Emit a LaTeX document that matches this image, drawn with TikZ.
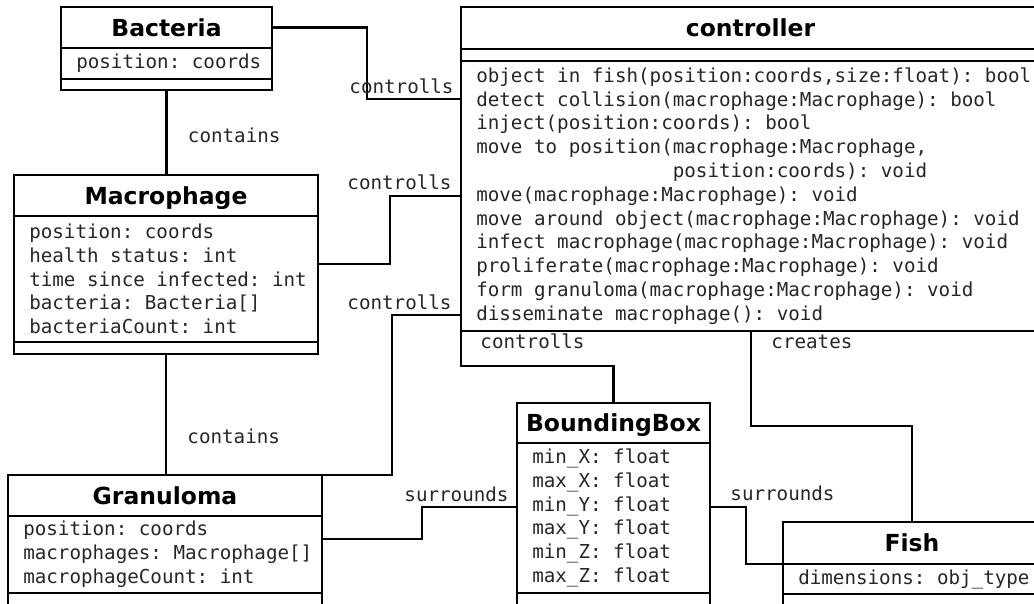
\documentclass[tikz,border=0pt]{standalone}
\usepackage{fontspec}
\setmainfont{DejaVu Sans}
\setmonofont{DejaVu Sans Mono}
\usetikzlibrary{positioning}

\newcommand{\classfont}{\bfseries\fontsize{16.7pt}{20pt}\selectfont}
\newcommand{\memberfont}{\ttfamily\fontsize{13.66pt}{16.93pt}\selectfont}

\begin{document}
\begin{tikzpicture}[
  box/.style={draw, line width=2.1pt, inner sep=0pt, outer sep=0pt},
  cname/.style={box, anchor=north west, font=\classfont,
    text height=12.2pt, text depth=0pt},
  members/.style={anchor=west, xshift=0.375cm, align=left,
    font=\memberfont, text=black!85, inner sep=0pt},
  link/.style={line width=2.1pt},
  role/.style={font=\memberfont, text=black!85, inner sep=0pt},
]
  \useasboundingbox (0,0) rectangle (25.85,-15.1);

  % Bacteria
  \node[cname, minimum width=5.275cm, minimum height=1.025cm] (bacteria) at (1.525,-0.175) {Bacteria};
  \node[box, minimum width=5.275cm, minimum height=0.775cm, below=0pt of bacteria] (bacteriaAttr) {};
  \node[box, minimum width=5.275cm, minimum height=0.275cm, below=0pt of bacteriaAttr] (bacteriaOps) {};
  \node[members] at (bacteriaAttr.west) {position: coords};

  % controller
  \node[cname, minimum width=14.475cm, minimum height=1.05cm] (controller) at (11.525,-0.175) {controller};
  \node[box, minimum width=14.475cm, minimum height=0.3cm, below=0pt of controller] (controllerAttr) {};
  \node[box, minimum width=14.475cm, minimum height=6.75cm, below=0pt of controllerAttr] (controllerOps) {};
  \node[members] at (controllerOps.west) {%
    object in fish(position:coords,size:float): bool\\
    detect collision(macrophage:Macrophage): bool\\
    inject(position:coords): bool\\
    move to position(macrophage:Macrophage,\\
    \phantom{move to position(}position:coords): void\\
    move(macrophage:Macrophage): void\\
    move around object(macrophage:Macrophage): void\\
    infect macrophage(macrophage:Macrophage): void\\
    proliferate(macrophage:Macrophage): void\\
    form granuloma(macrophage:Macrophage): void\\
    disseminate macrophage(): void};

  % Macrophage
  \node[cname, minimum width=7.6cm, minimum height=1.025cm] (macrophage) at (0.35,-4.375) {Macrophage};
  \node[box, minimum width=7.6cm, minimum height=3.15cm, below=0pt of macrophage] (macrophageAttr) {};
  \node[box, minimum width=7.6cm, minimum height=0.3cm, below=0pt of macrophageAttr] (macrophageOps) {};
  \node[members] at (macrophageAttr.west) {%
    position: coords\\
    health status: int\\
    time since infected: int\\
    bacteria: Bacteria[]\\
    bacteriaCount: int};

  % Granuloma
  \node[cname, minimum width=7.85cm, minimum height=1.025cm] (granuloma) at (0.2,-11.875) {Granuloma};
  \node[box, minimum width=7.85cm, minimum height=1.925cm, below=0pt of granuloma] (granulomaAttr) {};
  \node[box, minimum width=7.85cm, minimum height=0.5cm, below=0pt of granulomaAttr] (granulomaOps) {};
  \node[members] at (granulomaAttr.west) {%
    position: coords\\
    macrophages: Macrophage[]\\
    macrophageCount: int};

  % BoundingBox
  \node[cname, minimum width=4.825cm, minimum height=1.0cm] (boundingbox) at (12.925,-10.075) {BoundingBox};
  \node[box, minimum width=4.825cm, minimum height=3.75cm, below=0pt of boundingbox] (boundingboxAttr) {};
  \node[box, minimum width=4.825cm, minimum height=0.5cm, below=0pt of boundingboxAttr] (boundingboxOps) {};
  \node[members] at (boundingboxAttr.west) {%
    min\_X: float\\
    max\_X: float\\
    min\_Y: float\\
    max\_Y: float\\
    min\_Z: float\\
    max\_Z: float};

  % Fish
  \node[cname, minimum width=6.45cm, minimum height=1.05cm] (fish) at (19.575,-13.05) {Fish};
  \node[box, minimum width=6.45cm, minimum height=0.75cm, below=0pt of fish] (fishAttr) {};
  \node[box, minimum width=6.45cm, minimum height=0.5cm, below=0pt of fishAttr] (fishOps) {};
  \node[members] at (fishAttr.west) {dimensions: obj\_type};

  % controller links
  \draw[link] (bacteria.east) -- ++(2.375,0) |- ([yshift=-0.95cm]controllerOps.north west)
    node[role, anchor=base east, xshift=-0.15cm, yshift=0.15cm] {controlls};
  \draw[link] ([yshift=0.375cm]macrophageAttr.east) -- ++(1.8,0) |- ([yshift=-3.375cm]controllerOps.north west)
    node[role, anchor=base east, xshift=-0.2cm, yshift=0.175cm] {controlls};
  \draw[link] (granuloma.north east) -- ++(1.75,0) |- ([yshift=-6.35cm]controllerOps.north west)
    node[role, anchor=base east, xshift=-0.2cm, yshift=0.15cm] {controlls};
  \draw[link] (controllerOps.south west)
    node[role, anchor=base west, xshift=0.45cm, yshift=-0.425cm] {controlls}
    -- ++(0,-0.875) -| (boundingbox.north);
  \draw[link] ([xshift=7.25cm]controllerOps.south west)
    node[role, anchor=base west, xshift=0.475cm, yshift=-0.425cm] {creates}
    -- ++(0,-2.375) -| (fish.north);

  % containment
  \draw[link] (bacteriaOps.south)
    node[role, anchor=base west, xshift=0.5cm, yshift=-1.325cm] {contains}
    -- (bacteriaOps.south |- macrophage.north);
  \draw[link] (macrophageOps.south)
    node[role, anchor=base west, xshift=0.5cm, yshift=-2.225cm] {contains}
    -- (macrophageOps.south |- granuloma.north);

  % surrounds
  \draw[link] ([yshift=-0.575cm]granulomaAttr.north east) -- ++(2.5,0) |- ([yshift=-1.6cm]boundingboxAttr.north west)
    node[role, anchor=base east, xshift=-0.175cm, yshift=0.15cm] {surrounds};
  \draw[link] ([yshift=-1.6cm]boundingboxAttr.north east)
    node[role, anchor=base west, xshift=0.475cm, yshift=0.175cm] {surrounds}
    -- ++(0.9,0) |- (fishAttr.north west);
\end{tikzpicture}
\end{document}
